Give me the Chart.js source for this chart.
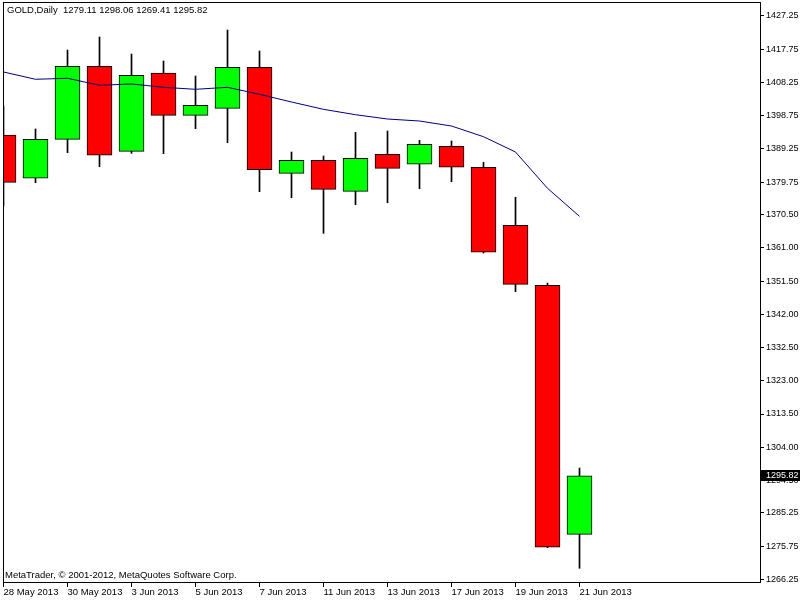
<!DOCTYPE html>
<html>
<head>
<meta charset="utf-8">
<script src="https://cdn.jsdelivr.net/npm/chart.js@4/dist/chart.umd.min.js"></script>
<style>
  html, body { margin: 0; padding: 0; background: #fff; }
  canvas { display: block; }
</style>
</head>
<body>
<canvas id="chart" width="800" height="600"></canvas>
<script>
let dates = ["28 May 2013", "29 May 2013", "30 May 2013", "31 May 2013", "3 Jun 2013",
  "4 Jun 2013", "5 Jun 2013", "6 Jun 2013", "7 Jun 2013", "10 Jun 2013", "11 Jun 2013",
  "12 Jun 2013", "13 Jun 2013", "14 Jun 2013", "17 Jun 2013", "18 Jun 2013",
  "19 Jun 2013", "20 Jun 2013", "21 Jun 2013"];

let opens  = [1393.24, 1380.87, 1392.01, 1412.87, 1388.58, 1410.96, 1398.87, 1400.87, 1412.59, 1382.29,
  1386.01, 1377.15, 1387.72, 1384.87, 1390.01, 1384.01, 1367.43, 1350.29, 1279.11];
let highs  = [1401.53, 1394.96, 1417.53, 1421.25, 1416.39, 1414.39, 1410.10, 1423.25, 1417.25, 1388.38,
  1387.24, 1394.01, 1394.38, 1391.73, 1391.53, 1385.44, 1375.44, 1350.94, 1298.06];
let lows   = [1372.95, 1379.61, 1388.18, 1384.18, 1388.00, 1387.90, 1395.04, 1391.04, 1377.04, 1375.32,
  1365.14, 1373.32, 1373.89, 1377.89, 1379.89, 1359.50, 1348.46, 1275.30, 1269.41];
let closes = [1379.72, 1392.01, 1412.87, 1387.44, 1410.30, 1398.87, 1401.73, 1412.59, 1383.32, 1386.01,
  1377.72, 1386.58, 1383.72, 1390.58, 1384.01, 1359.72, 1350.57, 1275.41, 1295.82];

// moving average drawn over the candles
let ma = [1411.25, 1409.16, 1409.45, 1407.45, 1407.82, 1406.87, 1406.30, 1406.87, 1404.87, 1402.67,
  1400.58, 1399.04, 1397.81, 1397.24, 1395.81, 1392.75, 1388.38, 1378.01, 1370.00];

let yTicks = [1427.25, 1417.75, 1408.25, 1398.75, 1389.25, 1379.75, 1370.50, 1361.00, 1351.50,
  1342.00, 1332.50, 1323.00, 1313.50, 1304.00, 1294.50, 1285.25, 1275.75, 1266.25];
let xTicks = [0, 2, 4, 6, 8, 10, 12, 14, 16, 18];

let last = closes.length - 1;
let title = "GOLD,Daily  " + opens[last].toFixed(2) + " " + highs[last].toFixed(2) + " " +
  lows[last].toFixed(2) + " " + closes[last].toFixed(2);
let copyright = "MetaTrader, \u00a9 2001-2012, MetaQuotes Software Corp.";

let FONT = "'Liberation Sans', Arial, sans-serif";
Chart.defaults.font.family = FONT;
Chart.defaults.font.size = 9.5;
Chart.defaults.color = "#000";

let bodies = [];
let wicks = [];
let colors = [];
let line = [];
for (let i = 0; i < closes.length; i++) {
  bodies.push({ x: i, y: [opens[i], closes[i]] });
  wicks.push({ x: i, y: [lows[i], highs[i]] });
  colors.push(closes[i] >= opens[i] ? "#00ff00" : "#ff0000");
  line.push({ x: i, y: ma[i] });
}

function noPad(s) {
  s.paddingTop = 0;
  s.paddingBottom = 0;
  s.paddingLeft = 0;
  s.paddingRight = 0;
}

const decor = {
  id: "decor",
  beforeDraw(chart) {
    let ctx = chart.ctx;
    ctx.save();
    ctx.fillStyle = "#fff";
    ctx.fillRect(0, 0, chart.width, chart.height);
    ctx.restore();
  },
  afterDraw(chart) {
    let ctx = chart.ctx;
    let a = chart.chartArea;
    ctx.save();
    ctx.strokeStyle = "#000";
    ctx.lineWidth = 1;
    ctx.strokeRect(a.left + 0.5, a.top + 0.5, a.right - a.left, a.bottom - a.top);

    ctx.font = "9.5px " + FONT;
    ctx.fillStyle = "#000";
    ctx.textAlign = "left";
    ctx.textBaseline = "middle";
    ctx.fillText(title, 7, 10);
    ctx.fillText(copyright, 5, 575);

    // last price marker on the price axis
    let y = chart.scales.y.getPixelForValue(closes[last]);
    ctx.fillRect(a.right + 1, Math.round(y) - 6, 40, 11);
    ctx.fillStyle = "#fff";
    ctx.font = "9px " + FONT;
    ctx.fillText(closes[last].toFixed(2), 766, y);
    ctx.restore();
  }
};

new Chart(document.getElementById("chart"), {
  type: "bar",
  data: {
    datasets: [
      {
        type: "line",
        data: line,
        borderColor: "#000080",
        borderWidth: 1,
        pointRadius: 0,
        tension: 0
      },
      {
        data: bodies,
        backgroundColor: colors,
        borderColor: "#000",
        borderWidth: 1,
        borderSkipped: false,
        barThickness: 25,
        grouped: false
      },
      {
        data: wicks,
        backgroundColor: "#000",
        borderWidth: 0,
        barThickness: 1,
        grouped: false
      }
    ]
  },
  options: {
    responsive: false,
    animation: false,
    layout: { padding: { left: 3, top: 2, right: 0, bottom: 0 } },
    plugins: { legend: { display: false }, tooltip: { enabled: false } },
    scales: {
      x: {
        type: "linear",
        offset: false,
        min: -0.015625,
        max: -0.015625 + 757 / 32,
        afterBuildTicks: (s) => { s.ticks = xTicks.map(v => ({ value: v })); },
        afterFit: (s) => { s.height = 18; noPad(s); },
        ticks: {
          autoSkip: false,
          maxRotation: 0,
          align: "start",
          padding: 0,
          callback: (v) => dates[v] || ""
        },
        grid: { offset: false, drawOnChartArea: false, drawTicks: true, tickLength: 5, color: "#000" },
        border: { display: true, color: "#000" }
      },
      y: {
        position: "right",
        min: 1265.49,
        max: 1431.25,
        afterBuildTicks: (s) => { s.ticks = yTicks.map(v => ({ value: v })); },
        afterFit: (s) => { s.width = 40; noPad(s); },
        ticks: {
          padding: 2,
          font: { size: 9 },
          callback: (v) => Number(v).toFixed(2)
        },
        grid: { drawOnChartArea: false, drawTicks: true, tickLength: 4, color: "#000" },
        border: { display: true, color: "#000" }
      }
    }
  },
  plugins: [decor]
});
</script>
</body>
</html>
